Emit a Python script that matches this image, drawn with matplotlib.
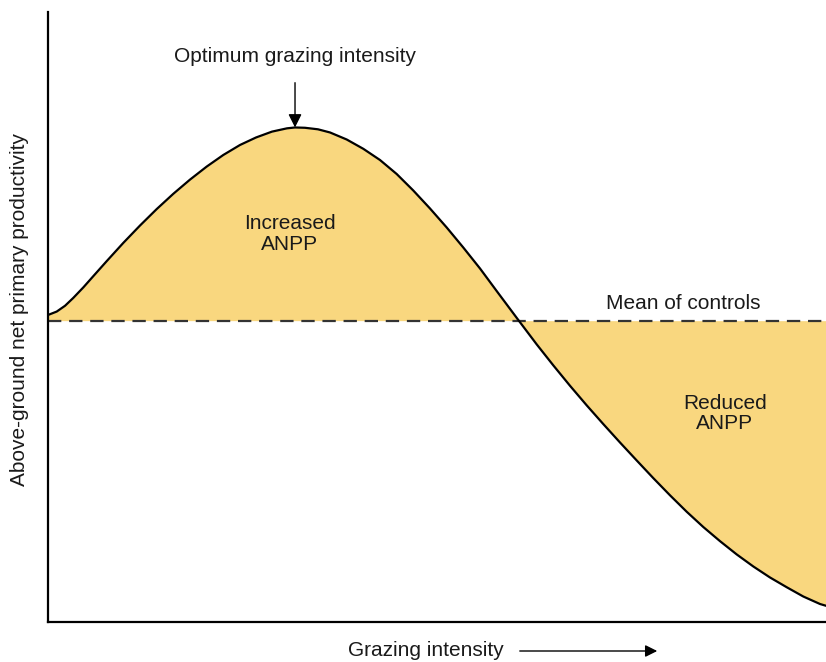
import matplotlib.pyplot as plt
from matplotlib.patches import FancyArrowPatch
import numpy as np

plt.rcParams["font.family"] = ["Liberation Sans", "DejaVu Sans"]

# grazing intensity (relative) and ANPP
grazing = [0.0, 1.12, 2.19, 3.25, 4.54, 5.82, 7.54, 9.68, 11.83, 13.97,
           16.11, 18.25, 20.40, 22.53, 24.68, 26.74, 28.79, 30.72, 31.75,
           33.03, 34.70, 36.25, 38.39, 40.53, 42.67, 44.82, 46.95, 49.10,
           51.25, 53.38, 55.53, 57.67, 59.38, 60.45, 62.81, 64.95, 67.10,
           69.24, 71.38, 73.52, 75.67, 77.80, 79.95, 82.09, 84.23, 86.38,
           88.52, 90.66, 92.80, 94.95, 97.08, 99.23, 100.0]
anpp = [50.33, 50.89, 51.84, 53.13, 54.85, 56.69, 59.15, 62.15, 65.00, 67.69,
        70.20, 72.52, 74.66, 76.56, 78.20, 79.43, 80.39, 80.93, 81.07,
        81.02, 80.77, 80.25, 79.10, 77.57, 75.74, 73.44, 70.74, 67.79,
        64.67, 61.39, 57.95, 54.26, 51.34, 49.51, 45.52, 42.07, 38.72,
        35.52, 32.44, 29.43, 26.48, 23.59, 20.77, 18.08, 15.57, 13.25,
        11.08, 9.10, 7.30, 5.70, 4.18, 2.95, 2.66]
control_mean = 49.4
optimum = (31.75, 81.07)

fill_color = "#F9D77F"
text_color = "#1a1a1a"

fig = plt.figure(figsize=(8.26, 6.62), dpi=100)
ax = fig.add_axes([48 / 826, 40 / 662, 778 / 826, 610 / 662])

x = np.array(grazing)
y = np.array(anpp)
ax.fill_between(x, y, control_mean, color=fill_color, linewidth=0, zorder=1)
ax.axhline(control_mean, color="#333333", lw=1.6, linestyle=(0, (6, 3.5)), zorder=2)
ax.plot(x, y, color="black", lw=1.6, solid_joinstyle="round", zorder=3)

ax.set_xlim(0, 100)
ax.set_ylim(0, 100)
ax.set_xticks([])
ax.set_yticks([])
for side in ["top", "right"]:
    ax.spines[side].set_visible(False)
for side in ["left", "bottom"]:
    ax.spines[side].set_linewidth(1.6)

fs = 15
ax.annotate("Optimum grazing intensity", xy=optimum, xytext=(optimum[0], 92.7),
            ha="center", va="center", fontsize=fs, color=text_color,
            arrowprops=dict(arrowstyle="-|>", color="black", lw=1.0,
                            mutation_scale=20, shrinkA=10, shrinkB=0))
ax.text(31.1, 63.6, "Increased\nANPP", ha="center", va="center", fontsize=fs,
        color=text_color, linespacing=1.1)
ax.text(81.6, 52.2, "Mean of controls", ha="center", va="center", fontsize=fs,
        color=text_color)
ax.text(87.0, 34.2, "Reduced\nANPP", ha="center", va="center", fontsize=fs,
        color=text_color, linespacing=1.1)

fig.text(426 / 826, 11 / 662, "Grazing intensity", ha="center", va="center",
         fontsize=fs, color=text_color)
fig.patches.append(FancyArrowPatch(
    (517 / 826, 11 / 662), (660 / 826, 11 / 662), transform=fig.transFigure,
    arrowstyle="-|>", mutation_scale=18, color="black", lw=1.0))
fig.text(20 / 826, 352 / 662, "Above-ground net primary productivity",
         rotation=90, ha="center", va="center", fontsize=fs, color=text_color)

fig.savefig("out.png", dpi=100)
